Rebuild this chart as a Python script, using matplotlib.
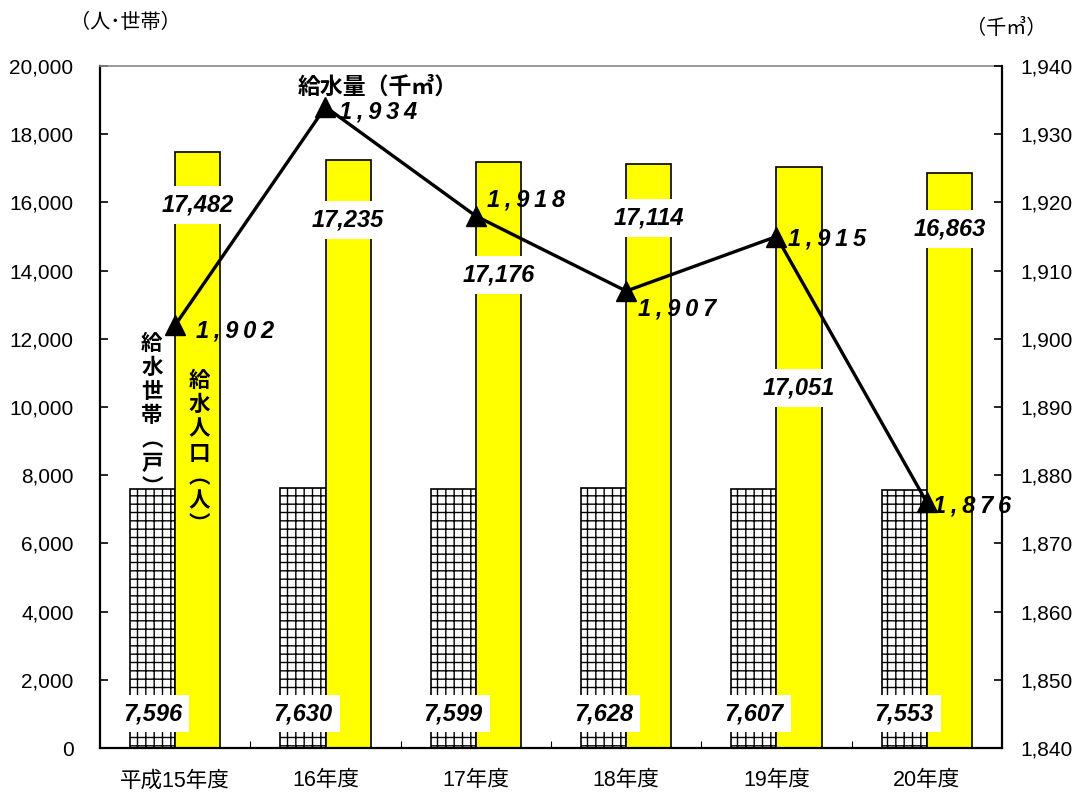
import matplotlib
matplotlib.use("Agg")
import matplotlib.pyplot as plt
import numpy as np

plt.rcParams['font.family'] = ['Liberation Sans', 'Noto Sans CJK JP', 'DejaVu Sans']
plt.rcParams['hatch.linewidth'] = 1.0

years = ["平成15年度", "16年度", "17年度", "18年度", "19年度", "20年度"]
households = [7596, 7630, 7599, 7628, 7607, 7553]
population = [17482, 17235, 17176, 17114, 17051, 16863]
supply = [1902, 1934, 1918, 1907, 1915, 1876]

# where the population labels sit inside the bars (left-axis units)
pop_label_y = [15924, 15484, 13871, 15542, 10557, 15220]
# offsets of the supply labels from the markers (pixels)
supply_offsets = [(60, -6), (53, -5), (50, 16), (51, -18), (51, -2), (45, -4)]

fig = plt.figure(figsize=(10.84, 7.92), dpi=100)
ax = fig.add_axes([100/1084, 44/792, 902/1084, 682/792])
x = np.arange(len(years))
w = 0.3

ax.bar(x - w/2, households, w, color='white', edgecolor='black', hatch='++', linewidth=1.2, zorder=2)
ax.bar(x + w/2, population, w, color='#ffff00', edgecolor='black', linewidth=1.2, zorder=2)

num_font = dict(family=['Liberation Sans', 'DejaVu Sans'], weight='bold', style='italic', fontsize=17)
box = dict(boxstyle='square,pad=0.3', facecolor='white', edgecolor='none')
for i in x:
    ax.text(i - w/2, 1000, f"{households[i]:,}", ha='center', va='center', bbox=box, zorder=4, **num_font)
    ax.text(i + w/2, pop_label_y[i], f"{population[i]:,}", ha='center', va='center', bbox=box, zorder=4, **num_font)

ax.set_xlim(-0.5, len(years) - 0.5)
ax.set_ylim(0, 20000)
ax.set_yticks(np.arange(0, 20001, 2000))
ax.set_yticklabels([f"{v:,}" for v in range(0, 20001, 2000)], fontsize=15)
ax.set_xticks(x)
ax.set_xticklabels(years, fontsize=15.5)
ax.tick_params(axis='x', which='major', length=0, pad=16)
ax.set_xticks(np.arange(0.5, len(years) - 1, 1), minor=True)
ax.tick_params(axis='x', which='minor', direction='in', length=5, width=0.8)
ax.tick_params(axis='y', direction='in', length=6, width=1.2, pad=19)
for s in ['left', 'bottom']:
    ax.spines[s].set_linewidth(1.6)
ax.spines['top'].set_color('#888888')
ax.spines['top'].set_linewidth(1.2)
ax.spines['right'].set_visible(False)

ax2 = ax.twinx()
ax2.plot(x, supply, color='black', linewidth=2.4, marker='^', markersize=15, zorder=5)
ax2.set_ylim(1840, 1940)
ax2.set_yticks(np.arange(1840, 1941, 10))
ax2.set_yticklabels([f"{v:,}" for v in range(1840, 1941, 10)], fontsize=15)
ax2.tick_params(axis='y', direction='in', length=6, width=1.2, pad=13)
ax2.spines['right'].set_linewidth(1.6)
ax2.spines['top'].set_visible(False)
ax2.spines['left'].set_visible(False)
ax2.spines['bottom'].set_visible(False)

for i, v in enumerate(supply):
    dx, dy = supply_offsets[i]
    label = "\u2009".join(f"{v:,}")
    ax2.annotate(label, (i, v), xytext=(dx * 0.72, dy * 0.72), textcoords='offset points',
                 ha='center', va='center', **num_font)

ax2.text(1.35, 1936.9, "給水量（千㎥）", ha='center', va='center', fontsize=16.5,
         weight='bold', family=['Noto Sans CJK JP', 'DejaVu Sans'])

vert = dict(ha='center', va='center', fontsize=15.5, weight='bold', linespacing=1.18,
            family=['Noto Sans CJK JP', 'DejaVu Sans'], zorder=4)
ax.text(-0.155, 9750, "\n".join("給水世帯︵戸︶"), **vert)
ax.text(0.16, 8650, "\n".join("給水人口︵人︶"), **vert)

fig.text(70/1084, 1 - 23/792, "（人･世帯）", ha='left', va='center', fontsize=14.5,
         family=['Noto Sans CJK JP', 'DejaVu Sans'])
fig.text(966/1084, 1 - 29/792, "（千㎥）", ha='left', va='center', fontsize=14.5,
         family=['Noto Sans CJK JP', 'DejaVu Sans'])

fig.savefig("out.png", dpi=100)
